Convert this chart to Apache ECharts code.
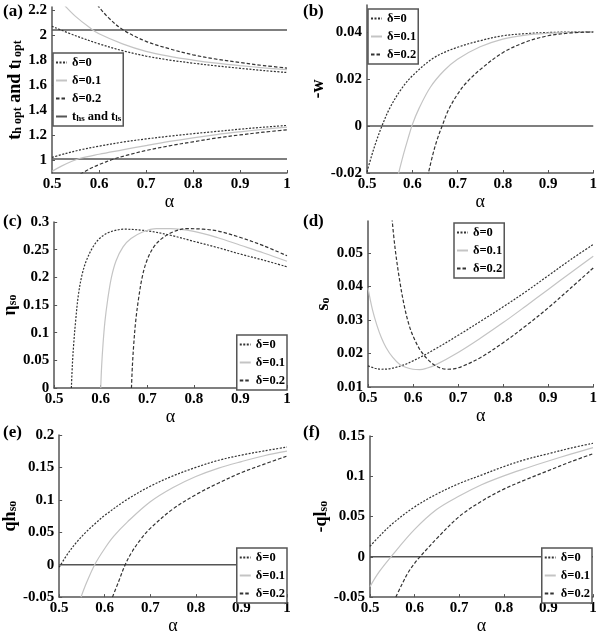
<!DOCTYPE html>
<html><head><meta charset="utf-8">
<script src="https://cdn.jsdelivr.net/npm/echarts@6/dist/echarts.min.js"></script>
<style>html,body{margin:0;padding:0;background:#fff}#c{width:600px;height:636px}</style>
</head><body><div id="c"></div>
<script>
// ---------- data ----------
const xTicks = [0.5, 0.6, 0.7, 0.8, 0.9, 1];
// (a) t_h opt (upper) and t_l opt (lower)
const aU1 = [0.5,0.55,0.6,0.65,0.7,0.75,0.8,0.85,0.9,0.95,1];
const vU1 = [2.07,1.995,1.93,1.875,1.832,1.80,1.775,1.753,1.734,1.716,1.70];
const aU2 = [0.52,0.53,0.55,0.58,0.6,0.65,0.7,0.75,0.8,0.85,0.9,0.95,1];
const vU2 = [2.27,2.225,2.15,2.06,2.01,1.93,1.87,1.83,1.80,1.775,1.755,1.738,1.723];
const aU3 = [0.59,0.6,0.62,0.65,0.7,0.75,0.8,0.85,0.9,0.95,1];
const vU3 = [2.28,2.225,2.14,2.045,1.95,1.89,1.842,1.807,1.78,1.756,1.736];
const aL1 = [0.5,0.53,0.56,0.6,0.65,0.7,0.75,0.8,0.85,0.9,0.95,1];
const vL1 = [1.02,1.052,1.08,1.11,1.142,1.168,1.19,1.21,1.228,1.246,1.262,1.276];
const aL2 = [0.5,0.52,0.54,0.56,0.6,0.65,0.7,0.75,0.8,0.85,0.9,0.95,1];
const vL2 = [0.908,0.95,0.985,1.013,1.045,1.08,1.115,1.148,1.177,1.203,1.225,1.245,1.262];
const aL3 = [0.56,0.58,0.6,0.63,0.66,0.7,0.75,0.8,0.85,0.9,0.95,1];
const vL3 = [0.885,0.928,0.962,1.005,1.038,1.075,1.113,1.145,1.175,1.2,1.222,1.241];
const tHs = 2.04, tLs = 1.008;
const yTicksA = [1,1.2,1.4,1.6,1.8,2,2.2];
// (b) -w
const aB1 = [0.5,0.51,0.52,0.533,0.55,0.575,0.6,0.65,0.7,0.75,0.8,0.85,0.9,0.95,1];
const vB1 = [-0.0195,-0.0128,-0.0068,0,0.0075,0.0155,0.0213,0.0293,0.0335,0.0363,0.0384,0.0393,0.0398,0.04,0.0401];
const aB2 = [0.568,0.58,0.59,0.6,0.615,0.64,0.67,0.7,0.75,0.8,0.85,0.9,0.95,1];
const vB2 = [-0.0215,-0.0125,-0.0058,0.0005,0.0075,0.0165,0.0235,0.0284,0.0337,0.0370,0.0387,0.0395,0.0399,0.0401];
const aB3 = [0.634,0.645,0.655,0.666,0.68,0.7,0.72,0.75,0.8,0.85,0.9,0.95,1];
const vB3 = [-0.0215,-0.0125,-0.0058,0,0.0068,0.0135,0.0185,0.024,0.0312,0.0357,0.0384,0.0396,0.04];
const yTicksB = [-0.02,0,0.02,0.04];
// (c) eta_so
const aC1 = [0.537,0.539,0.542,0.546,0.552,0.56,0.57,0.585,0.6,0.62,0.65,0.7,0.75,0.8,0.85,0.9,0.95,1];
const vC1 = [0,0.04,0.08,0.12,0.168,0.205,0.232,0.257,0.272,0.282,0.287,0.284,0.276,0.265,0.254,0.242,0.231,0.219];
const aC2 = [0.6,0.602,0.605,0.609,0.615,0.623,0.633,0.648,0.665,0.69,0.72,0.75,0.8,0.85,0.9,0.95,1];
const vC2 = [0,0.04,0.08,0.12,0.16,0.2,0.23,0.255,0.27,0.282,0.288,0.288,0.283,0.272,0.258,0.244,0.229];
const aC3 = [0.666,0.668,0.671,0.675,0.681,0.689,0.699,0.714,0.731,0.755,0.785,0.82,0.85,0.9,0.95,1];
const vC3 = [0,0.04,0.08,0.12,0.16,0.2,0.23,0.255,0.27,0.282,0.288,0.287,0.284,0.272,0.257,0.239];
// (d) s_o
const aD1 = [0.5,0.515,0.53,0.545,0.56,0.58,0.6,0.625,0.65,0.7,0.75,0.8,0.85,0.9,0.95,1];
const vD1 = [0.0163,0.0156,0.0153,0.0154,0.0158,0.0166,0.0178,0.0195,0.0214,0.0254,0.0296,0.0339,0.0384,0.0432,0.048,0.0525];
const aD2 = [0.5,0.51,0.52,0.53,0.54,0.555,0.57,0.585,0.6,0.615,0.63,0.65,0.7,0.75,0.8,0.85,0.9,0.95,1];
const vD2 = [0.0395,0.033,0.0283,0.0246,0.0218,0.0188,0.0168,0.0158,0.0153,0.0152,0.0156,0.0166,0.0203,0.0246,0.0292,0.0341,0.0391,0.0441,0.049];
const aD3 = [0.552,0.56,0.57,0.58,0.59,0.6,0.615,0.63,0.645,0.66,0.675,0.69,0.71,0.75,0.8,0.85,0.9,0.95,1];
const vD3 = [0.062,0.0515,0.042,0.0345,0.029,0.0252,0.0212,0.0186,0.0168,0.0157,0.0153,0.0154,0.0162,0.0188,0.0232,0.0282,0.0336,0.0395,0.0455];
const yTicksD = [0.01,0.02,0.03,0.04,0.05];
// (e) qh_so
const aE1 = [0.5,0.52,0.54,0.56,0.58,0.6,0.65,0.7,0.75,0.8,0.85,0.9,0.95,1];
const vE1 = [-0.004,0.018,0.036,0.051,0.064,0.076,0.101,0.121,0.137,0.15,0.161,0.169,0.1755,0.1815];
const aE2 = [0.548,0.56,0.578,0.6,0.62,0.65,0.7,0.75,0.8,0.85,0.9,0.95,1];
const vE2 = [-0.05,-0.028,0,0.025,0.044,0.066,0.097,0.119,0.136,0.149,0.159,0.168,0.175];
const aE3 = [0.617,0.63,0.645,0.66,0.68,0.7,0.75,0.8,0.85,0.9,0.95,1];
const vE3 = [-0.05,-0.027,0,0.02,0.04,0.056,0.086,0.108,0.126,0.142,0.155,0.1675];
// (f) -ql_so
const aF1 = [0.5,0.52,0.55,0.6,0.65,0.7,0.75,0.8,0.85,0.9,0.95,1];
const vF1 = [0.013,0.025,0.041,0.062,0.078,0.091,0.1015,0.112,0.121,0.128,0.135,0.141];
const aF2 = [0.5,0.52,0.55,0.6,0.65,0.7,0.75,0.8,0.85,0.9,0.95,1];
const vF2 = [-0.037,-0.019,0.002,0.034,0.059,0.0755,0.0895,0.1005,0.11,0.119,0.1275,0.1355];
const aF3 = [0.558,0.57,0.585,0.6,0.612,0.63,0.65,0.7,0.75,0.8,0.85,0.9,0.95,1];
const vF3 = [-0.05,-0.036,-0.02,-0.008,0,0.011,0.023,0.05,0.069,0.084,0.096,0.107,0.118,0.128];
const deltaNames = ['δ=0','δ=0.1','δ=0.2'];

// ---------- layout / style ----------
const FONT = 'Liberation Serif';
const AX = '#555';
const grids = [
  {left:52, top:7, width:235, height:166},
  {left:367, top:5, width:228, height:168},
  {left:52, top:222, width:235, height:166},
  {left:368, top:221, width:227, height:166},
  {left:52, top:435, width:235, height:167},
  {left:370, top:436, width:223, height:166}
];
const st = [
  {color:'#333', width:1.2, type:[2,1.5]},
  {color:'#c4c4c4', width:1.2, type:'solid'},
  {color:'#333', width:1.2, type:[3.5,2]}
];
const refStyle = {color:'#555', width:1.5, type:'solid'};

function pairs(xs, ys){ return xs.map((x,i)=>[x, ys[i]]); }
function line(name, xs, ys, k, s){
  return {type:'line', name, xAxisIndex:k, yAxisIndex:k, data:pairs(xs,ys),
    symbol:'none', showSymbol:false, smooth:0.35,
    lineStyle:s, itemStyle:{color:s.color}, silent:true, animation:false, z:3};
}
function hline(name, y, k){
  return {type:'line', name, xAxisIndex:k, yAxisIndex:k, data:[[0.5,y],[1,y]],
    symbol:'none', showSymbol:false, lineStyle:refStyle, itemStyle:{color:refStyle.color},
    silent:true, animation:false, z:2};
}
const lbl = {fontFamily:FONT, fontWeight:'bold', fontSize:15, color:'#000'};
function xAx(k){
  return {type:'value', gridIndex:k, min:0.5, max:1, interval:0.1,
    name:'α', nameLocation:'middle', nameGap:19,
    nameTextStyle:{fontFamily:FONT, fontSize:18, color:'#000'},
    axisLine:{onZero:false, lineStyle:{color:AX, width:1.5}},
    axisTick:{inside:true, length:3, lineStyle:{color:AX}},
    axisLabel:Object.assign({margin:4, showMinLabel:true, showMaxLabel:true}, lbl),
    splitLine:{show:false}};
}
const sub = {fontFamily:FONT, fontWeight:'bold', fontSize:12, color:'#000', verticalAlign:'bottom', lineHeight:6};
const main = {fontFamily:FONT, fontWeight:'bold', fontSize:18, color:'#000', verticalAlign:'bottom', lineHeight:20};
function yAx(k, o){
  const a = {type:'value', gridIndex:k, min:o.min, max:o.max,
    name:o.name, nameLocation:'middle', nameRotate:90, nameGap:o.gap,
    nameTextStyle:{rich:{m:main, s:sub}},
    axisLine:{onZero:false, lineStyle:{color:AX, width:1.5}},
    axisTick:{inside:true, length:3, lineStyle:{color:AX}},
    axisLabel:Object.assign({margin:5, showMinLabel:true, showMaxLabel:true}, lbl),
    splitLine:{show:false}};
  if (o.ticks){ a.axisLabel.customValues = o.ticks; a.axisTick.customValues = o.ticks; }
  else a.interval = o.interval;
  return a;
}
const yAxes = [
  yAx(0,{min:0.895, max:2.225, ticks:yTicksA, gap:24, name:'{m|t}{s|h opt}{m| and t}{s|l opt}'}),
  yAx(1,{min:-0.02, max:0.0515, ticks:yTicksB, gap:36, name:'{m|-w}'}),
  yAx(2,{min:0, max:0.3, interval:0.05, gap:28, name:'{m|η}{s|so}'}),
  yAx(3,{min:0.01, max:0.0595, ticks:yTicksD, gap:36, name:'{m|s}{s|o}'}),
  yAx(4,{min:-0.05, max:0.2, interval:0.05, gap:28, name:'{m|qh}{s|so}'}),
  yAx(5,{min:-0.05, max:0.15, interval:0.05, gap:38, name:'{m|-ql}{s|so}'})
];

const series = [
  line(deltaNames[0], aU1, vU1, 0, st[0]), line(deltaNames[1], aU2, vU2, 0, st[1]), line(deltaNames[2], aU3, vU3, 0, st[2]),
  line(deltaNames[0], aL1, vL1, 0, st[0]), line(deltaNames[1], aL2, vL2, 0, st[1]), line(deltaNames[2], aL3, vL3, 0, st[2]),
  hline('ths', tHs, 0), hline('ths', tLs, 0),
  hline('', 0, 1),
  line(deltaNames[0], aB1, vB1, 1, st[0]), line(deltaNames[1], aB2, vB2, 1, st[1]), line(deltaNames[2], aB3, vB3, 1, st[2]),
  line(deltaNames[0], aC1, vC1, 2, st[0]), line(deltaNames[1], aC2, vC2, 2, st[1]), line(deltaNames[2], aC3, vC3, 2, st[2]),
  line(deltaNames[0], aD1, vD1, 3, st[0]), line(deltaNames[1], aD2, vD2, 3, st[1]), line(deltaNames[2], aD3, vD3, 3, st[2]),
  hline('', 0, 4),
  line(deltaNames[0], aE1, vE1, 4, st[0]), line(deltaNames[1], aE2, vE2, 4, st[1]), line(deltaNames[2], aE3, vE3, 4, st[2]),
  hline('', 0, 5),
  line(deltaNames[0], aF1, vF1, 5, st[0]), line(deltaNames[1], aF2, vF2, 5, st[1]), line(deltaNames[2], aF3, vF3, 5, st[2])
];

function legend(pos, withRef){
  return Object.assign({data: withRef ? deltaNames.concat(['ths']) : deltaNames.slice(),
    orient:'vertical', itemWidth:11, itemHeight:13, itemGap:5,
    padding:[3,2,3,2], borderColor:AX, borderWidth:1.5, backgroundColor:'#fff',
    selectedMode:false, z:10,
    itemStyle:{color:'rgba(0,0,0,0)', borderWidth:0, opacity:0},
    formatter: n => n === 'ths' ? 't{s|hs} and t{s|ls}' : n,
    textStyle:{fontFamily:FONT, fontWeight:'bold', fontSize:12.5, color:'#000',
      rich:{s:{fontFamily:FONT, fontWeight:'bold', fontSize:9, color:'#000', verticalAlign:'bottom', lineHeight:4}}}}, pos);
}
const legends = [
  legend({left:53, top:53}, true), legend({left:368, top:9}), legend({right:313, top:335}),
  legend({left:454, top:223}), legend({right:313, top:548}), legend({right:8, top:548})
];
const panelLbl = [['(a)',3,3],['(b)',303,3],['(c)',3,213],['(d)',303,213],['(e)',3,424],['(f)',303,424]];
const graphic = panelLbl.map(p => ({type:'text', left:p[1], top:p[2], z:20,
  style:{text:p[0], font:'bold 17px "Liberation Serif"', fill:'#000'}}));

const chart = echarts.init(document.getElementById('c'), null, {renderer:'canvas'});
chart.setOption({
  animation:false, backgroundColor:'#fff',
  grid: grids, xAxis:[0,1,2,3,4,5].map(xAx), yAxis:yAxes,
  legend: legends, series, graphic
});
</script></body></html>
